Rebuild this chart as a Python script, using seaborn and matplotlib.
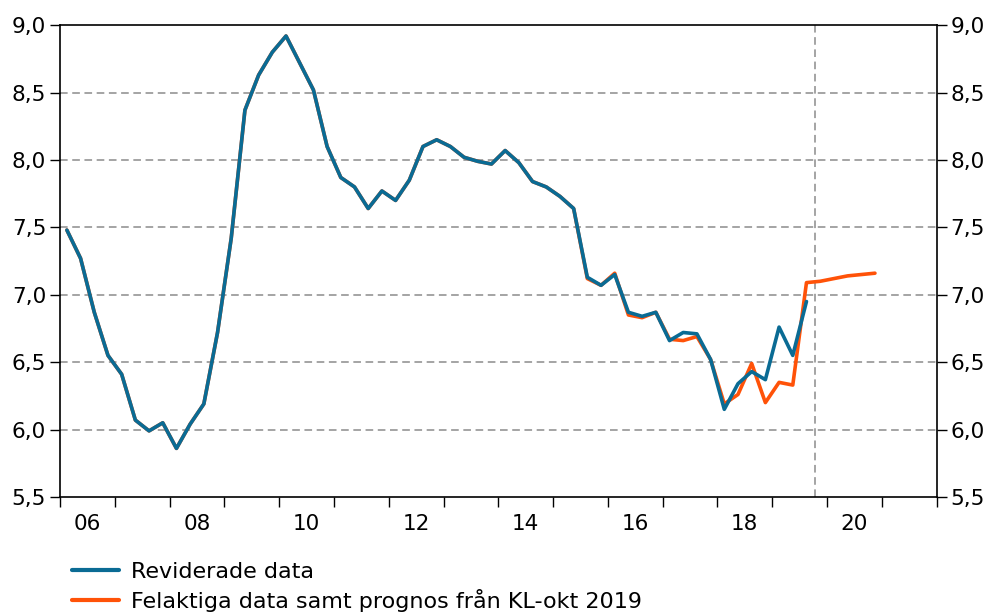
import numpy as np
import pandas as pd
import seaborn as sns
import matplotlib.pyplot as plt
from matplotlib.lines import Line2D
from matplotlib.ticker import FuncFormatter

# quarterly data, 2006Q1 - 2019Q3 (revised) and 2006Q1 - 2020Q4 (faulty + forecast)
reviderade = [7.48, 7.27, 6.87, 6.55,
              6.41, 6.07, 5.99, 6.05,
              5.86, 6.04, 6.19, 6.72,
              7.42, 8.37, 8.63, 8.80,
              8.92, 8.72, 8.52, 8.10,
              7.87, 7.80, 7.64, 7.77,
              7.70, 7.85, 8.10, 8.15,
              8.10, 8.02, 7.99, 7.97,
              8.07, 7.98, 7.84, 7.80,
              7.73, 7.64, 7.13, 7.07,
              7.15, 6.87, 6.84, 6.87,
              6.66, 6.72, 6.71, 6.52,
              6.15, 6.34, 6.43, 6.37,
              6.76, 6.55, 6.95]
felaktiga = [7.48, 7.27, 6.87, 6.55,
             6.41, 6.07, 5.99, 6.05,
             5.86, 6.04, 6.19, 6.72,
             7.42, 8.37, 8.63, 8.80,
             8.92, 8.72, 8.52, 8.10,
             7.87, 7.80, 7.64, 7.77,
             7.70, 7.85, 8.10, 8.15,
             8.10, 8.02, 7.99, 7.97,
             8.07, 7.98, 7.84, 7.80,
             7.73, 7.64, 7.12, 7.07,
             7.16, 6.85, 6.83, 6.87,
             6.67, 6.66, 6.69, 6.52,
             6.19, 6.26, 6.49, 6.20,
             6.35, 6.33, 7.09, 7.10,
             7.12, 7.14, 7.15, 7.16]
start_year = 2006
x_labels = ["06", "08", "10", "12", "14", "16", "18", "20"]

blue = "#0a6b94"
orange = "#ff5208"

df_rev = pd.DataFrame({"t": start_year + (np.arange(len(reviderade)) + 0.5) / 4,
                       "value": reviderade})
df_fel = pd.DataFrame({"t": start_year + (np.arange(len(felaktiga)) + 0.5) / 4,
                       "value": felaktiga})

sns.set_style("ticks")
plt.rcParams['font.family'] = ['DejaVu Sans']
plt.rcParams['text.color'] = 'black'
plt.rcParams['xtick.color'] = 'black'
plt.rcParams['ytick.color'] = 'black'

fig = plt.figure(figsize=(9.89, 6.15), dpi=100)
ax = fig.add_axes([0.0607, 0.192, 0.8863, 0.767])

sns.lineplot(data=df_fel, x="t", y="value", color=orange, lw=2.6, ax=ax)
sns.lineplot(data=df_rev, x="t", y="value", color=blue, lw=2.6, ax=ax)

ax.set_xlim(2006, 2022)
ax.set_ylim(5.5, 9.0)
ax.set_xlabel("")
ax.set_ylabel("")

# horizontal dashed grid
for yv in np.arange(6.0, 9.0, 0.5):
    ax.axhline(yv, color="#8c8c8c", lw=1.1, ls=(0, (5, 3)), zorder=0)
ax.axvline(2019.78, color="#8c8c8c", lw=1.1, ls=(0, (5, 3)), zorder=0)

# x ticks at year boundaries, labels in mid-year of even years
ax.set_xticks(np.arange(2006, 2023, 1))
ax.set_xticklabels([])
ax.set_xticks([int("20" + s) + 0.5 for s in x_labels], minor=True)
ax.set_xticklabels(x_labels, minor=True)
ax.tick_params(axis="x", which="major", direction="out", length=7, width=1,
               bottom=True, color="black")
ax.tick_params(axis="x", which="minor", length=0, labelsize=15.5, pad=12,
               labelcolor="black")

fmt = FuncFormatter(lambda v, p: f"{v:.1f}".replace(".", ","))
ax.set_yticks(np.arange(5.5, 9.01, 0.5))
ax.yaxis.set_major_formatter(fmt)
ax.tick_params(axis="y", direction="out", length=7, width=1, labelsize=15.5,
               left=True, right=True, labelleft=True, labelright=True, pad=3,
               labelcolor="black")

for s in ax.spines.values():
    s.set_visible(True)
    s.set_color("black")
    s.set_linewidth(1.2)

handles = [Line2D([], [], color=blue, lw=3), Line2D([], [], color=orange, lw=3)]
labels = ["Reviderade data", "Felaktiga data samt prognos från KL-okt 2019"]
fig.legend(handles, labels, loc="upper left", bbox_to_anchor=(0.064, 0.101),
           frameon=False, fontsize=16, handlelength=2.1, handletextpad=0.55,
           labelspacing=0.32, borderaxespad=0)

plt.savefig("out.png", dpi=100)
